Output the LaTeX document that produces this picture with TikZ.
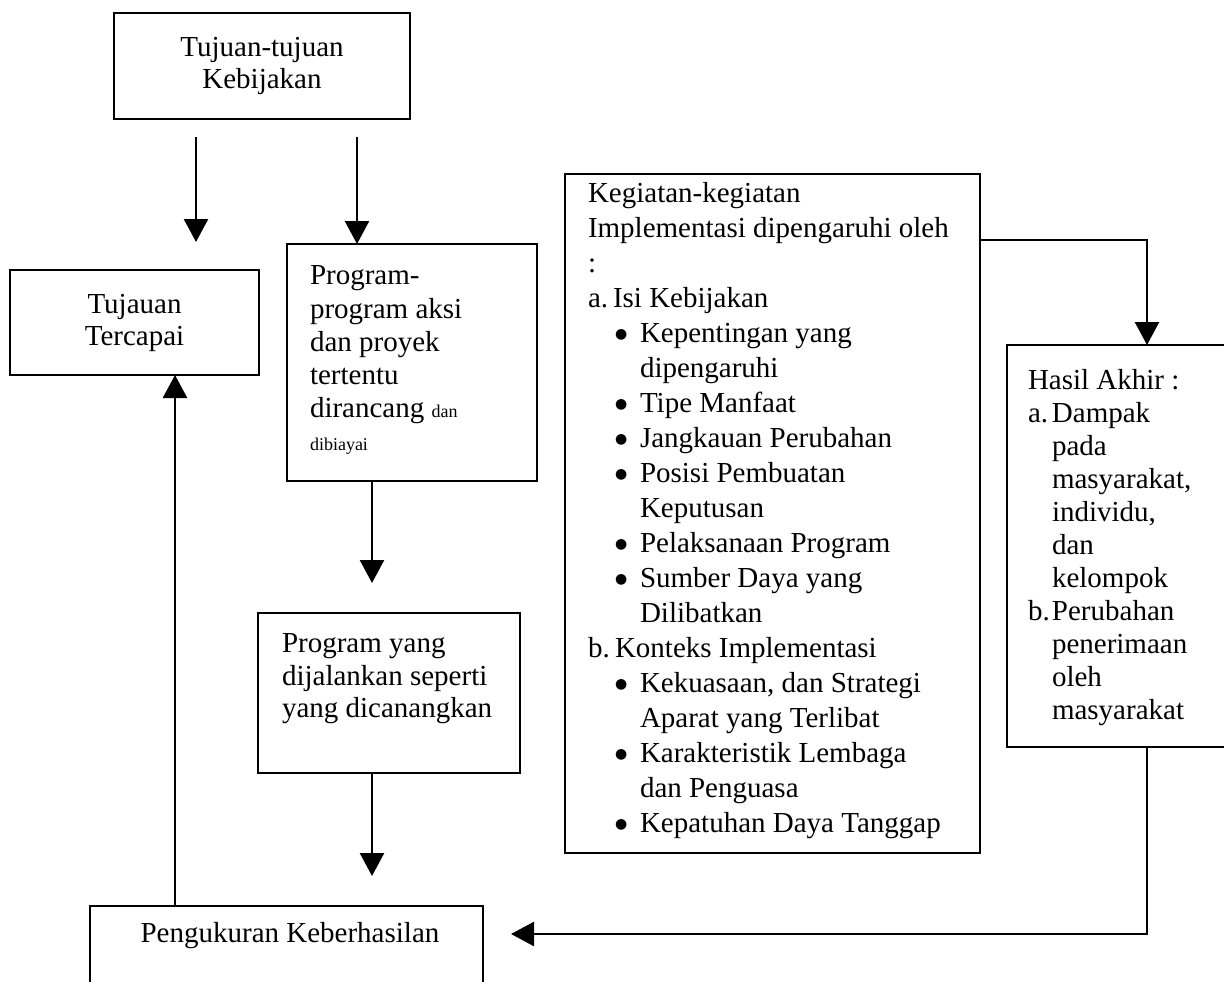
\documentclass[tikz,border=0pt]{standalone}
\usepackage{fontspec}
\setmainfont{Liberation Serif}
\newfontfamily\symfont{DejaVu Sans}
\usetikzlibrary{arrows.meta,calc}
\newcommand{\bigdot}{\raisebox{3.5pt}{\symfont\fontsize{14}{14}\selectfont ●}}
\newcommand{\impbul}[1]{\hspace*{27pt}\makebox[25pt][l]{\bigdot}#1}
\newcommand{\impcont}[1]{\hspace*{52pt}#1}
\begin{document}
\begin{tikzpicture}[x=1pt,y=-1pt,
  box/.style={draw, line width=2.4pt, inner sep=0pt, outer sep=0pt},
  txt/.style={inner sep=0pt, outer sep=0pt, align=left, anchor=north west},
  arr/.style={line width=2.5pt, -{Triangle[length=23pt,width=24pt]}},
  every node/.style={font=\fontsize{29}{32}\selectfont}
]
\useasboundingbox (0,0) rectangle (1224,982);
\fill[white] (0,0) rectangle (1224,982);

% boxes
\node[box, minimum width=296pt, minimum height=106pt, align=center] (goals) at (262,66) {Tujuan-tujuan\\Kebijakan};
\node[box, minimum width=249pt, minimum height=105pt, align=center] (achieved) at (134.5,322.5) {Tujauan\\Tercapai};
\node[box, minimum width=250pt, minimum height=237pt] (prog) at (412,362.5) {};
\node[txt, font=\fontsize{29}{33.2}\selectfont] (progtxt) at (310,266)
  {Program-\\program aksi\\dan proyek\\tertentu\\dirancang {\fontsize{18}{20}\selectfont dan}\\{\fontsize{18}{20}\selectfont dibiayai}};
\node[box, minimum width=262pt, minimum height=160pt] (progrun) at (389,693) {};
\node[txt, font=\fontsize{29}{32.5}\selectfont] (progruntxt) at (282,634)
  {Program yang\\dijalankan seperti\\yang dicanangkan};
\node[box, minimum width=393pt, minimum height=94pt] (measure) at (286.5,953) {};
\node (measuretxt) at (290,936) {Pengukuran Keberhasilan};

\node[box, minimum width=415pt, minimum height=679pt] (impl) at (772.5,513.5) {};
\node[txt, font=\fontsize{29}{35}\selectfont] (impltxt) at (588,182)
  {Kegiatan-kegiatan\\
   Implementasi dipengaruhi oleh\\
   :\\
   \makebox[25pt][l]{a.}Isi Kebijakan\\
   \impbul{Kepentingan yang}\\
   \impcont{dipengaruhi}\\
   \impbul{Tipe Manfaat}\\
   \impbul{Jangkauan Perubahan}\\
   \impbul{Posisi Pembuatan}\\
   \impcont{Keputusan}\\
   \impbul{Pelaksanaan Program}\\
   \impbul{Sumber Daya yang}\\
   \impcont{Dilibatkan}\\
   \makebox[27pt][l]{b.}Konteks Implementasi\\
   \impbul{Kekuasaan, dan Strategi}\\
   \impcont{Aparat yang Terlibat}\\
   \impbul{Karakteristik Lembaga}\\
   \impcont{dan Penguasa}\\
   \impbul{Kepatuhan Daya Tanggap}};

\node[box, minimum width=233pt, minimum height=402pt] (result) at (1123.5,546) {};
\node[txt, font=\fontsize{29}{33}\selectfont] (resulttxt) at (1028,369)
  {Hasil Akhir :\\
   \makebox[24pt][l]{a.}Dampak\\
   \hspace*{24pt}pada\\
   \hspace*{24pt}masyarakat,\\
   \hspace*{24pt}individu,\\
   \hspace*{24pt}dan\\
   \hspace*{24pt}kelompok\\
   \makebox[24pt][l]{b.}Perubahan\\
   \hspace*{24pt}penerimaan\\
   \hspace*{24pt}oleh\\
   \hspace*{24pt}masyarakat};

% helper coordinates
\coordinate (cA) at (196,0);
\coordinate (cB) at (357,0);
\coordinate (cC) at (372,0);
\coordinate (cD) at (175,0);
\coordinate (cE) at (1147,0);
\coordinate (r240) at (0,240);
\coordinate (r934) at (0,934);

% connectors
\draw[arr, shorten <=18pt, shorten >=28pt] (goals.south -| cA) -- (achieved.north -| cA);
\draw[arr, shorten <=18pt] (goals.south -| cB) -- (prog.north -| cB);
\draw[arr, shorten >=30pt] (prog.south -| cC) -- (progrun.north -| cC);
\draw[arr, shorten >=30pt] (progrun.south -| cC) -- (measure.north -| cC);
\draw[arr] (measure.north -| cD) -- (achieved.south -| cD);
\draw[arr] (impl.east |- r240) -| (result.north -| cE);
\draw[arr, shorten >=28pt] (result.south -| cE) |- (measure.east |- r934);
\end{tikzpicture}
\end{document}
